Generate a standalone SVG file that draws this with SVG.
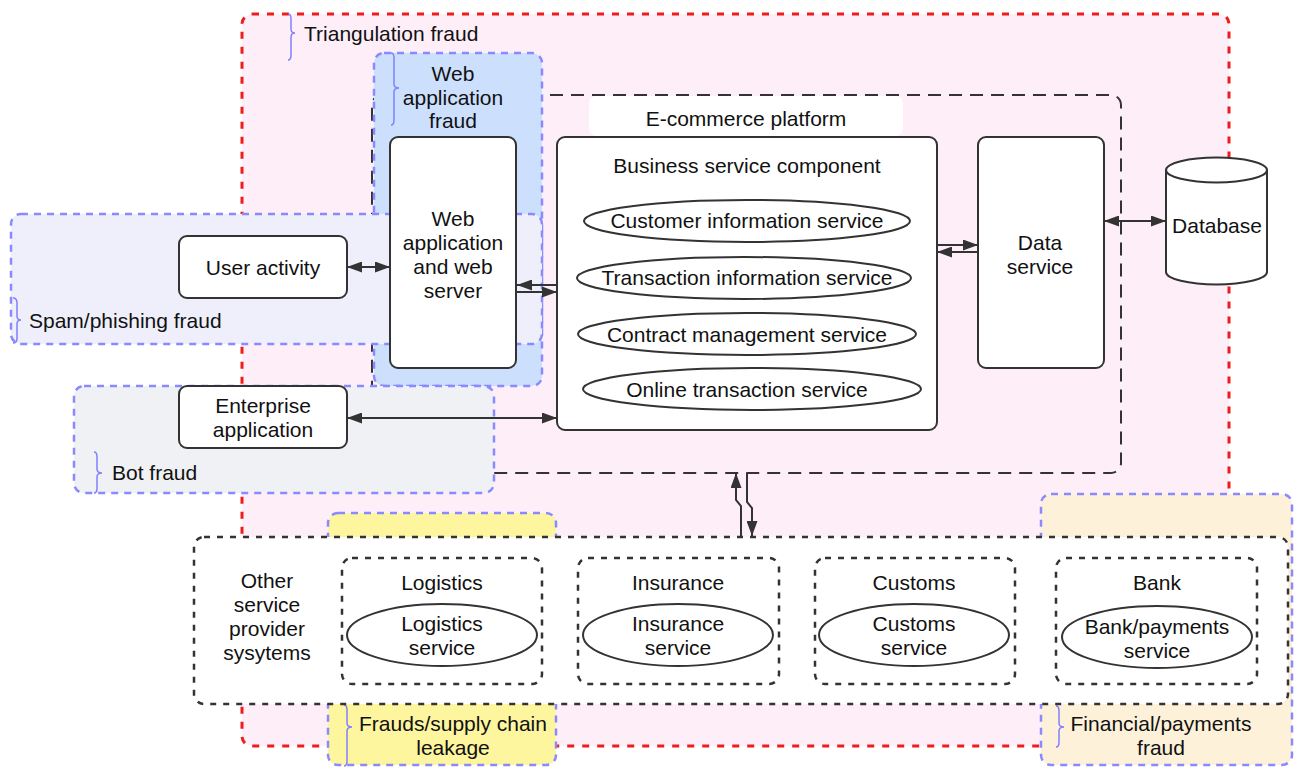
<svg xmlns="http://www.w3.org/2000/svg" width="1295" height="767" viewBox="0 0 1295 767">
<style>
text{font-family:"Liberation Sans",Arial,sans-serif;font-size:21px;fill:#111;dominant-baseline:central}
.c{text-anchor:middle}
.red{fill:#feeef8;stroke:#ee1c1c;stroke-width:3;stroke-dasharray:7 8}
.blue{stroke:#8a8aff;stroke-width:2.5;stroke-dasharray:7 6}
.brace{fill:none;stroke:#8080ff;stroke-width:1.5}
.eco{fill:none;stroke:#333;stroke-width:2;stroke-dasharray:13 8}
.dot{stroke:#333;stroke-width:2.5;stroke-dasharray:6 7}
.node{fill:#fff;stroke:#333;stroke-width:2}
.conn{fill:none;stroke:#333;stroke-width:2}
</style>
<defs>
<marker id="ah" viewBox="0 0 15 11" refX="15" refY="5.5" markerWidth="15" markerHeight="11" markerUnits="userSpaceOnUse" orient="auto-start-reverse"><path d="M0,0 L15,5.5 L0,11 z" fill="#333"/></marker>
</defs>
<g id="triangulation-fraud">
<rect class="red" x="242" y="14" width="987" height="732" rx="10"/>
</g>
<g id="ecommerce-platform">
<rect class="eco" x="372" y="95" width="749" height="378" rx="10"/>
<rect x="589" y="96" width="314" height="40" rx="8" fill="#fff"/>
<text class="c" x="746" y="118">E-commerce platform</text>
</g>
<g id="web-application-fraud">
<rect class="blue" x="374" y="53" width="168" height="333" rx="10" fill="#cce0fe"/>
</g>
<g id="spam-phishing-fraud">
<rect class="blue" x="11" y="214" width="531" height="130" rx="10" fill="#efeffc"/>
</g>
<g id="bot-fraud">
<rect class="blue" x="74" y="386" width="420" height="107" rx="10" fill="#f0f1f4"/>
</g>
<g id="supply-chain-fraud">
<rect class="blue" x="328" y="513" width="228" height="252" rx="10" fill="#fef59f"/>
</g>
<g id="financial-fraud">
<rect class="blue" x="1041" y="494" width="251" height="271" rx="10" fill="#fef1da"/>
</g>
<g id="fraud-labels">
<path class="brace" d="M288,14 Q291,14 291,19 L291,29 Q291,33 295,33 Q291,33 291,37 L291,55 Q291,60 288,60"/>
<text x="304" y="33">Triangulation fraud</text>
<path class="brace" d="M391,53 Q394,53 394,58 L394,84 Q394,88 399,88 Q394,88 394,92 L394,120 Q394,125 391,125"/>
<text class="c" x="453" y="73">Web</text>
<text class="c" x="453" y="97">application</text>
<text class="c" x="453" y="120">fraud</text>
<path class="brace" d="M13,298 Q17,298 17,303 L17,316 Q17,320 21,320 Q17,320 17,324 L17,338 Q17,343 13,343"/>
<text x="29" y="320">Spam/phishing fraud</text>
<path class="brace" d="M94,452 Q97,452 97,457 L97,469 Q97,473 102,473 Q97,473 97,477 L97,488 Q97,493 94,493"/>
<text x="112" y="472">Bot fraud</text>
<path class="brace" d="M344,705 Q347,705 347,710 L347,723 Q347,727 352,727 Q347,727 347,731 L347,761 Q347,766 344,766"/>
<text class="c" x="453" y="723">Frauds/supply chain</text>
<text class="c" x="453" y="747">leakage</text>
<path class="brace" d="M1056,706 Q1059,706 1059,711 L1059,723 Q1059,727 1064,727 Q1059,727 1059,731 L1059,742 Q1059,747 1056,747"/>
<text class="c" x="1161" y="723">Financial/payments</text>
<text class="c" x="1161" y="747">fraud</text>
</g>
<g id="other-service-provider-systems">
<rect class="dot" x="194" y="537" width="1094" height="167" rx="10" fill="#fff"/>
<text class="c" x="267" y="580">Other</text>
<text class="c" x="267" y="604">service</text>
<text class="c" x="267" y="628">provider</text>
<text class="c" x="267" y="652">sysytems</text>
</g>
<g id="logistics">
<rect class="dot" x="342" y="558" width="200" height="126" rx="10" fill="none"/>
<text class="c" x="442" y="582">Logistics</text>
<ellipse class="node" cx="442" cy="635" rx="95" ry="31"/>
<text class="c" x="442" y="623">Logistics</text>
<text class="c" x="442" y="647">service</text>
</g>
<g id="insurance">
<rect class="dot" x="578" y="558" width="201" height="126" rx="10" fill="none"/>
<text class="c" x="678" y="582">Insurance</text>
<ellipse class="node" cx="678" cy="635" rx="95" ry="31"/>
<text class="c" x="678" y="623">Insurance</text>
<text class="c" x="678" y="647">service</text>
</g>
<g id="customs">
<rect class="dot" x="815" y="558" width="200" height="126" rx="10" fill="none"/>
<text class="c" x="914" y="582">Customs</text>
<ellipse class="node" cx="914" cy="635" rx="95" ry="31"/>
<text class="c" x="914" y="623">Customs</text>
<text class="c" x="914" y="647">service</text>
</g>
<g id="bank">
<rect class="dot" x="1056" y="558" width="201" height="126" rx="10" fill="none"/>
<text class="c" x="1157" y="582">Bank</text>
<ellipse class="node" cx="1157" cy="637" rx="95" ry="31"/>
<text class="c" x="1157" y="626">Bank/payments</text>
<text class="c" x="1157" y="650">service</text>
</g>
<g id="user-activity">
<rect class="node" x="179" y="236" width="168" height="62" rx="8"/>
<text class="c" x="263" y="267">User activity</text>
</g>
<g id="enterprise-application">
<rect class="node" x="179" y="386" width="168" height="62" rx="8"/>
<text class="c" x="263" y="405">Enterprise</text>
<text class="c" x="263" y="429">application</text>
</g>
<g id="web-server">
<rect class="node" x="390" y="137" width="126" height="231" rx="8"/>
<text class="c" x="453" y="218">Web</text>
<text class="c" x="453" y="242">application</text>
<text class="c" x="453" y="266">and web</text>
<text class="c" x="453" y="290">server</text>
</g>
<g id="business-service-component">
<rect class="node" x="557" y="137" width="380" height="293" rx="8"/>
<text class="c" x="747" y="165">Business service component</text>
<ellipse class="node" cx="747" cy="221" rx="163" ry="21"/>
<text class="c" x="747" y="220">Customer information service</text>
<ellipse class="node" cx="744" cy="278" rx="167" ry="21"/>
<text class="c" x="747" y="277">Transaction information service</text>
<ellipse class="node" cx="747" cy="334" rx="169" ry="21"/>
<text class="c" x="747" y="334">Contract management service</text>
<ellipse class="node" cx="752" cy="389" rx="169" ry="21"/>
<text class="c" x="747" y="389">Online transaction service</text>
</g>
<g id="data-service">
<rect class="node" x="978" y="137" width="126" height="231" rx="8"/>
<text class="c" x="1040" y="242">Data</text>
<text class="c" x="1040" y="266">service</text>
</g>
<g id="database">
<path class="node" d="M1166,170 L1166,272 A50.5,12.5 0 0 0 1267,272 L1267,170 A50.5,12.5 0 0 0 1166,170 Z"/>
<path class="conn" d="M1166,170 A50.5,12.5 0 0 0 1267,170"/>
<text class="c" x="1217" y="225">Database</text>
</g>
<g id="connectors">
<path class="conn" d="M347,267 L390,267" marker-start="url(#ah)" marker-end="url(#ah)"/>
<path class="conn" d="M557,285 L517,285" marker-end="url(#ah)"/>
<path class="conn" d="M517,292 L557,292" marker-end="url(#ah)"/>
<path class="conn" d="M937,245 L978,245" marker-end="url(#ah)"/>
<path class="conn" d="M978,252 L937,252" marker-end="url(#ah)"/>
<path class="conn" d="M1104,221 L1166,221" marker-start="url(#ah)" marker-end="url(#ah)"/>
<path class="conn" d="M347,418 L557,418" marker-start="url(#ah)" marker-end="url(#ah)"/>
<path class="conn" d="M741,536 L741,506 L736,500 L736,473" marker-end="url(#ah)"/>
<path class="conn" d="M747,473 L747,502 L752,508 L752,536" marker-end="url(#ah)"/>
</g>
</svg>
